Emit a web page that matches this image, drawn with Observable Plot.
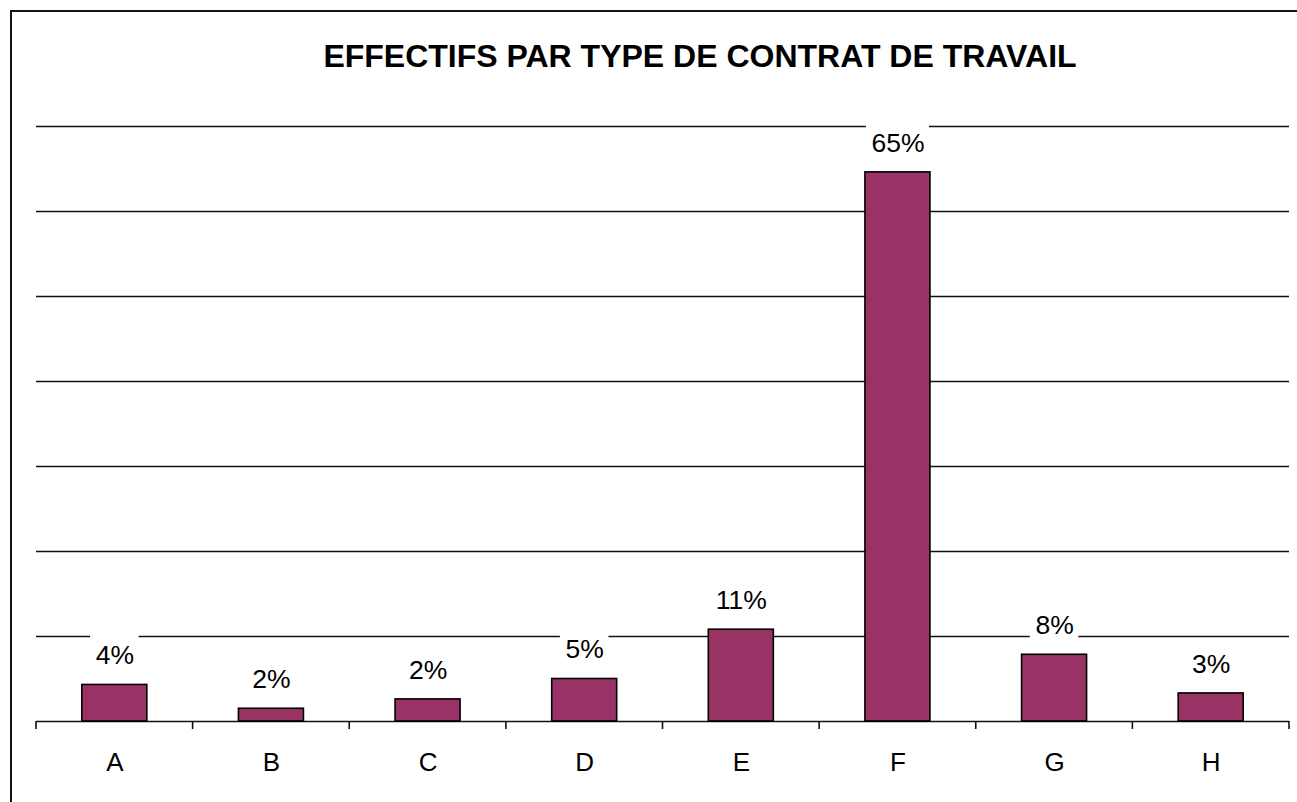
<!DOCTYPE html>
<html>
<head>
<meta charset="utf-8">
<script src="https://cdn.jsdelivr.net/npm/d3@7"></script>
<script src="https://cdn.jsdelivr.net/npm/@observablehq/plot@0.6"></script>
<style>
  html, body { margin: 0; padding: 0; background: #fff; overflow: hidden; }
  #page { position: relative; width: 1297px; height: 802px; overflow: hidden; font-family: "Liberation Sans", Arial, sans-serif; }
  #frame { position: absolute; left: 10px; top: 10px; width: 1400px; height: 900px; border: 2px solid #111; box-sizing: border-box; }
  #title { position: absolute; left: 300px; width: 800px; top: 38px; text-align: center; font-weight: bold; font-size: 32px; line-height: 36px; color: #000; white-space: nowrap; }
  #chart { position: absolute; left: 0; top: 90px; }
</style>
</head>
<body>
<div id="page">
  <div id="frame"></div>
  <div id="title">EFFECTIFS PAR TYPE DE CONTRAT DE TRAVAIL</div>
  <div id="chart"></div>
</div>
<script>
const categories = ["A", "B", "C", "D", "E", "F", "G", "H"];
const values = [4.3, 1.5, 2.6, 5.0, 10.8, 64.6, 7.85, 3.3];
const valueLabels = ["4%", "2%", "2%", "5%", "11%", "65%", "8%", "3%"];
const gridValues = [10, 20, 30, 40, 50, 60, 70];

const data = categories.map((c, i) => ({cat: c, value: values[i], label: valueLabels[i]}));

const FONT = '26px "Liberation Sans", Arial, sans-serif';
const ctx = document.createElement("canvas").getContext("2d");
ctx.font = FONT;

function bandStep(sx) {
  if (typeof sx.step === "function") return sx.step();
  if (typeof sx.step === "number") return sx.step;
  return sx(categories[1]) - sx(categories[0]);
}
function bandWidth(sx) {
  if (typeof sx.bandwidth === "function") return sx.bandwidth();
  return sx.bandwidth || 0;
}

// tick marks between categories on the baseline
function boundaryTicks(index, scales, values, dims) {
  const sx = scales.x, sy = scales.y;
  const bw = bandWidth(sx), step = bandStep(sx);
  const y0 = sy(0);
  const g = d3.create("svg:g").attr("stroke", "#111").attr("stroke-width", 1.6);
  const xs = categories.map(c => sx(c) - (step - bw) / 2);
  xs.push(sx(categories[categories.length - 1]) + bw + (step - bw) / 2);
  for (const x of xs) {
    g.append("line").attr("x1", x).attr("x2", x).attr("y1", y0).attr("y2", y0 + 8);
  }
  return g.node();
}

// white boxes behind value labels (break the gridlines)
function labelBoxes(index, scales) {
  const sx = scales.x, sy = scales.y;
  const bw = bandWidth(sx);
  const g = d3.create("svg:g").attr("fill", "white");
  data.forEach(d => {
    const w = ctx.measureText(d.label).width + 11;
    const h = 44;
    const cx = sx(d.cat) + bw / 2;
    const cy = sy(d.value) - 29;
    g.append("rect").attr("x", cx - w / 2).attr("y", cy - h / 2).attr("width", w).attr("height", h);
  });
  return g.node();
}

const chart = Plot.plot({
  width: 1297,
  height: 712,
  marginTop: 36,
  marginBottom: 81,
  marginLeft: 36,
  marginRight: 8,
  style: {fontFamily: '"Liberation Sans", Arial, sans-serif', color: "#000", background: "transparent"},
  x: {domain: categories, paddingInner: 0.585, paddingOuter: 0.2925, round: false, axis: null, label: null},
  y: {domain: [0, 70], axis: null},
  marks: [
    Plot.ruleY(gridValues, {stroke: "#111", strokeWidth: 1.5}),
    labelBoxes,
    Plot.ruleY([0], {stroke: "#111", strokeWidth: 1.6}),
    boundaryTicks,
    Plot.barY(data, {x: "cat", y: "value", fill: "#993366", stroke: "#000", strokeWidth: 1.6}),
    Plot.text(data, {x: "cat", y: "value", text: "label", dy: -29, lineAnchor: "middle", fontSize: 26.5, fill: "#000"}),
    Plot.axisX({tickSize: 0, tickPadding: 31, fontSize: 26, fill: "#000", label: null})
  ]
});
document.getElementById("chart").appendChild(chart);
</script>
</body>
</html>
